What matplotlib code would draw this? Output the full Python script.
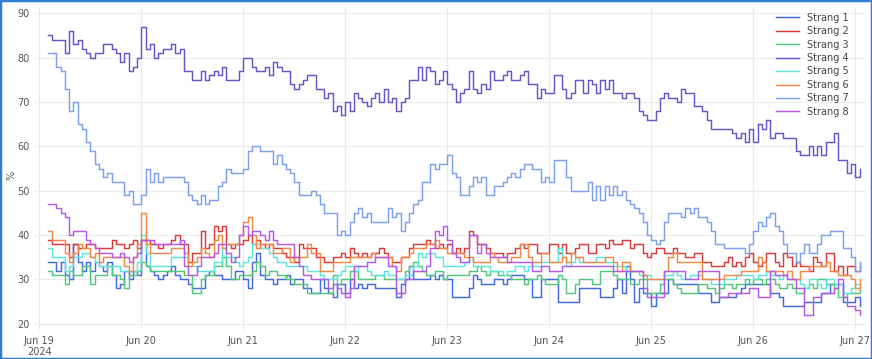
#!/usr/bin/env python3
import matplotlib
matplotlib.use("Agg")
import matplotlib.pyplot as plt
from matplotlib.patches import Rectangle
import pandas as pd

# hourly readings, Jun 19 02:00 -> Jun 27 01:00 (one row per day)
strang_1 = [34, 34, 32, 34, 31, 30, 38, 34, 32, 34, 32, 34, 33, 32, 34, 31, 28, 29, 32, 30, 32, 31, 39, 33,
            32, 31, 30, 31, 32, 33, 31, 30, 30, 29, 28, 28, 28, 31, 32, 31, 31, 30, 30, 30, 32, 32, 30, 28,
            34, 36, 31, 30, 30, 29, 30, 30, 31, 29, 30, 30, 28, 28, 27, 27, 30, 28, 27, 26, 29, 29, 27, 30,
            28, 29, 28, 29, 29, 28, 28, 28, 28, 28, 26, 29, 30, 33, 30, 30, 30, 30, 31, 30, 31, 30, 30, 26,
            26, 26, 26, 28, 31, 30, 29, 29, 29, 30, 30, 29, 30, 31, 31, 31, 30, 30, 26, 26, 30, 30, 30, 30,
            25, 25, 25, 25, 25, 28, 28, 28, 28, 28, 26, 26, 26, 28, 30, 27, 33, 30, 25, 28, 27, 27, 24, 27,
            27, 27, 30, 29, 29, 29, 29, 29, 29, 27, 27, 27, 25, 25, 26, 26, 26, 26, 27, 28, 29, 29, 29, 29,
            29, 29, 27, 27, 26, 24, 24, 24, 24, 24, 25, 25, 25, 25, 27, 27, 29, 29, 29, 25, 25, 25, 26, 24]
strang_2 = [39, 38, 38, 38, 38, 35, 38, 37, 37, 38, 38, 37, 37, 37, 37, 39, 38, 38, 37, 38, 39, 37, 39, 39,
            38, 38, 37, 38, 38, 39, 40, 38, 38, 34, 36, 36, 41, 37, 38, 42, 41, 42, 38, 37, 38, 38, 39, 40,
            38, 39, 38, 37, 38, 37, 37, 36, 35, 35, 34, 38, 37, 37, 37, 35, 35, 34, 34, 35, 35, 36, 35, 37,
            36, 35, 36, 35, 36, 36, 37, 36, 35, 34, 34, 35, 35, 37, 38, 38, 38, 39, 38, 37, 38, 37, 38, 36,
            37, 36, 37, 41, 40, 38, 38, 37, 36, 36, 36, 35, 36, 36, 37, 38, 37, 38, 38, 36, 36, 36, 38, 38,
            36, 38, 36, 36, 37, 38, 38, 36, 36, 38, 38, 37, 39, 38, 38, 39, 39, 37, 38, 38, 36, 35, 36, 37,
            37, 36, 36, 37, 36, 36, 35, 35, 36, 36, 34, 34, 33, 33, 33, 34, 35, 33, 34, 33, 35, 36, 34, 33,
            34, 36, 36, 34, 33, 36, 35, 33, 34, 33, 33, 32, 35, 34, 33, 36, 36, 32, 33, 31, 33, 33, 32, 33]
strang_3 = [32, 31, 31, 31, 29, 32, 31, 31, 33, 33, 29, 31, 31, 31, 33, 31, 31, 30, 28, 31, 31, 32, 34, 33,
            32, 32, 32, 32, 32, 32, 32, 32, 31, 31, 27, 27, 30, 31, 31, 33, 33, 35, 33, 30, 30, 31, 31, 31,
            32, 34, 33, 31, 32, 32, 31, 31, 30, 30, 29, 29, 29, 27, 27, 27, 27, 27, 27, 31, 29, 30, 30, 32,
            32, 30, 30, 30, 30, 31, 31, 30, 30, 30, 30, 30, 32, 33, 34, 33, 32, 31, 31, 32, 32, 30, 31, 31,
            31, 31, 31, 32, 32, 33, 32, 31, 32, 32, 31, 31, 31, 30, 30, 30, 29, 30, 30, 31, 30, 29, 29, 29,
            31, 30, 27, 27, 29, 30, 30, 30, 29, 29, 32, 32, 32, 31, 30, 30, 30, 29, 29, 30, 30, 27, 27, 27,
            29, 30, 30, 29, 28, 27, 27, 27, 27, 29, 29, 28, 28, 27, 28, 29, 29, 28, 29, 29, 30, 29, 30, 30,
            29, 30, 30, 29, 28, 28, 29, 28, 27, 27, 28, 29, 28, 30, 30, 29, 29, 28, 26, 26, 27, 27, 27, 28]
strang_4 = [85, 84, 84, 84, 81, 86, 83, 84, 82, 81, 80, 81, 81, 83, 83, 82, 81, 79, 81, 77, 78, 80, 87, 82,
            83, 80, 81, 82, 82, 83, 81, 82, 77, 77, 75, 75, 77, 75, 76, 77, 76, 78, 75, 75, 75, 77, 80, 80,
            78, 77, 77, 78, 76, 79, 78, 77, 77, 74, 73, 74, 75, 76, 76, 73, 73, 71, 72, 68, 69, 67, 70, 68,
            72, 71, 70, 69, 71, 72, 70, 73, 70, 71, 68, 70, 71, 75, 75, 78, 75, 78, 77, 74, 75, 77, 74, 73,
            70, 72, 73, 77, 73, 72, 74, 73, 77, 75, 75, 76, 77, 75, 75, 76, 77, 74, 74, 71, 73, 72, 72, 76,
            76, 73, 71, 72, 75, 75, 72, 75, 74, 72, 75, 73, 75, 72, 72, 71, 72, 72, 71, 68, 67, 66, 66, 68,
            71, 72, 71, 71, 70, 73, 72, 72, 69, 69, 68, 66, 64, 64, 64, 64, 64, 63, 62, 63, 61, 64, 61, 65,
            64, 66, 62, 63, 63, 62, 62, 62, 59, 58, 58, 60, 58, 60, 58, 61, 61, 63, 57, 57, 54, 56, 53, 55]
strang_5 = [37, 35, 35, 35, 32, 33, 35, 35, 36, 36, 35, 34, 33, 33, 33, 33, 33, 32, 32, 32, 32, 34, 40, 36,
            33, 33, 33, 33, 33, 35, 35, 35, 35, 33, 33, 32, 32, 32, 32, 34, 34, 37, 35, 35, 34, 33, 34, 35,
            38, 38, 37, 37, 36, 35, 34, 34, 33, 33, 33, 33, 33, 32, 32, 32, 31, 30, 30, 30, 31, 32, 33, 33,
            32, 33, 33, 32, 31, 31, 31, 32, 31, 31, 30, 30, 31, 31, 33, 36, 35, 36, 36, 35, 35, 33, 33, 33,
            33, 33, 34, 35, 33, 33, 33, 33, 32, 32, 32, 31, 32, 32, 33, 33, 32, 33, 33, 33, 34, 34, 34, 34,
            37, 35, 33, 34, 35, 34, 34, 34, 34, 35, 35, 34, 34, 33, 33, 33, 32, 32, 32, 31, 31, 31, 30, 30,
            30, 31, 31, 32, 31, 30, 30, 31, 31, 31, 30, 30, 29, 29, 29, 30, 30, 30, 31, 31, 31, 31, 30, 31,
            31, 32, 31, 31, 30, 31, 30, 30, 30, 29, 28, 30, 30, 29, 28, 30, 30, 29, 29, 27, 27, 28, 29, 29]
strang_6 = [41, 39, 39, 39, 36, 34, 36, 38, 37, 37, 35, 36, 34, 35, 35, 35, 35, 35, 33, 32, 35, 38, 45, 38,
            36, 36, 36, 36, 36, 37, 37, 37, 36, 33, 34, 35, 37, 36, 35, 39, 40, 37, 38, 38, 38, 40, 43, 44,
            40, 37, 38, 38, 38, 36, 36, 37, 37, 34, 35, 35, 35, 38, 36, 36, 32, 32, 32, 34, 34, 34, 34, 35,
            35, 35, 35, 35, 36, 35, 35, 35, 35, 33, 32, 35, 35, 36, 37, 37, 37, 38, 38, 39, 37, 37, 36, 36,
            36, 36, 35, 35, 34, 34, 34, 34, 36, 35, 34, 34, 34, 35, 35, 38, 38, 35, 34, 34, 36, 36, 34, 34,
            34, 35, 34, 36, 35, 35, 34, 34, 34, 34, 34, 35, 35, 34, 32, 34, 34, 32, 32, 32, 31, 30, 30, 30,
            30, 32, 35, 36, 34, 34, 34, 34, 34, 34, 30, 30, 30, 30, 30, 31, 31, 31, 31, 32, 32, 32, 32, 35,
            34, 32, 32, 32, 32, 31, 32, 30, 30, 32, 32, 33, 33, 33, 33, 34, 32, 32, 31, 31, 31, 30, 28, 30]
strang_7 = [81, 81, 78, 77, 73, 68, 70, 65, 64, 61, 59, 56, 55, 53, 54, 52, 52, 52, 49, 50, 47, 47, 49, 55,
            52, 54, 52, 53, 53, 53, 53, 53, 52, 49, 48, 47, 49, 47, 48, 48, 51, 52, 55, 54, 54, 54, 55, 59,
            60, 60, 59, 59, 59, 56, 58, 56, 55, 54, 52, 49, 49, 49, 50, 49, 47, 45, 45, 45, 40, 41, 40, 43,
            45, 46, 44, 45, 43, 43, 43, 43, 46, 44, 45, 41, 43, 45, 47, 48, 52, 52, 56, 55, 56, 56, 58, 54,
            53, 49, 49, 51, 53, 52, 53, 49, 49, 51, 51, 52, 53, 54, 53, 55, 56, 56, 55, 55, 52, 53, 52, 57,
            57, 57, 53, 50, 50, 50, 50, 52, 48, 51, 48, 51, 49, 51, 49, 50, 48, 47, 46, 45, 43, 40, 39, 38,
            39, 43, 45, 45, 45, 44, 46, 45, 46, 44, 44, 43, 41, 38, 38, 37, 37, 37, 37, 37, 36, 38, 41, 43,
            42, 44, 45, 42, 41, 38, 36, 36, 34, 36, 38, 36, 36, 38, 40, 40, 41, 41, 41, 37, 37, 35, 32, 34]
strang_8 = [47, 47, 46, 45, 44, 40, 41, 41, 41, 39, 38, 37, 36, 36, 36, 35, 35, 36, 35, 34, 35, 36, 39, 39,
            39, 38, 38, 38, 38, 38, 38, 39, 33, 31, 31, 33, 35, 35, 35, 36, 38, 38, 36, 34, 35, 40, 42, 40,
            41, 41, 40, 39, 41, 39, 38, 38, 38, 38, 35, 33, 31, 31, 30, 30, 30, 30, 28, 29, 28, 27, 26, 28,
            33, 33, 33, 34, 34, 35, 35, 35, 33, 33, 27, 27, 30, 30, 32, 32, 32, 33, 37, 41, 40, 42, 39, 36,
            35, 34, 34, 40, 40, 36, 38, 36, 35, 35, 35, 35, 34, 34, 34, 34, 34, 34, 32, 32, 33, 33, 32, 32,
            32, 33, 33, 33, 33, 33, 33, 33, 33, 33, 33, 33, 33, 32, 32, 32, 32, 32, 32, 32, 28, 26, 26, 26,
            26, 32, 32, 32, 32, 32, 30, 30, 30, 32, 32, 32, 32, 32, 26, 26, 27, 27, 27, 27, 27, 28, 28, 26,
            26, 26, 32, 31, 31, 31, 30, 30, 28, 28, 22, 22, 26, 26, 27, 27, 27, 28, 30, 26, 24, 24, 23, 22]

series = [strang_1, strang_2, strang_3, strang_4, strang_5, strang_6, strang_7, strang_8]
names = ["Strang %d" % (i + 1) for i in range(8)]
colors = ["#4169E1", "#D93A3A", "#52C77C", "#6A52C8", "#5EE6DE", "#EF8A47", "#7CA0EA", "#B45AE4"]

times = pd.date_range("2024-06-19 02:00", periods=192, freq="h")

fig = plt.figure(figsize=(8.72, 3.59), dpi=100)
ax = fig.add_axes([35 / 872, 29 / 359, 831 / 872, 322 / 359])

for name, s, c in zip(names, series, colors):
    ax.plot(times, s, drawstyle="steps-post", color=c, lw=1.05, label=name)

ax.set_xlim(pd.Timestamp("2024-06-18 23:00"), pd.Timestamp("2024-06-27 02:30"))
ax.set_ylim(18.6, 91.2)
ax.set_yticks(range(20, 91, 10))

days = pd.date_range("2024-06-19", "2024-06-27", freq="D")
ax.set_xticks(days)
labels = [d.strftime("%b %d") for d in days]
labels[0] = labels[0] + "\n2024"
ax.set_xticklabels(labels)

ax.grid(True, color="#ececec", lw=0.8)
ax.set_axisbelow(True)
for sp in ax.spines.values():
    sp.set_visible(False)
ax.tick_params(length=0, labelsize=7, colors="#555555", pad=4)

# y axis title, placed by hand like the original
fig.text(11 / 872, 1 - 175 / 359, "%", rotation=90, ha="center", va="center",
         fontsize=7, color="#555555")

leg = ax.legend(loc="upper left", bbox_to_anchor=(772 / 872, 1 - 9 / 359), bbox_transform=fig.transFigure,
                frameon=False, fontsize=7, handlelength=2.4, labelspacing=0.35, borderaxespad=0)
for t in leg.get_texts():
    t.set_color("#444444")

fig.patches.append(Rectangle((0, 0), 1, 1, transform=fig.transFigure, fill=False,
                             edgecolor="#2F7BD6", lw=2.5))

fig.savefig("out.png", dpi=100)
